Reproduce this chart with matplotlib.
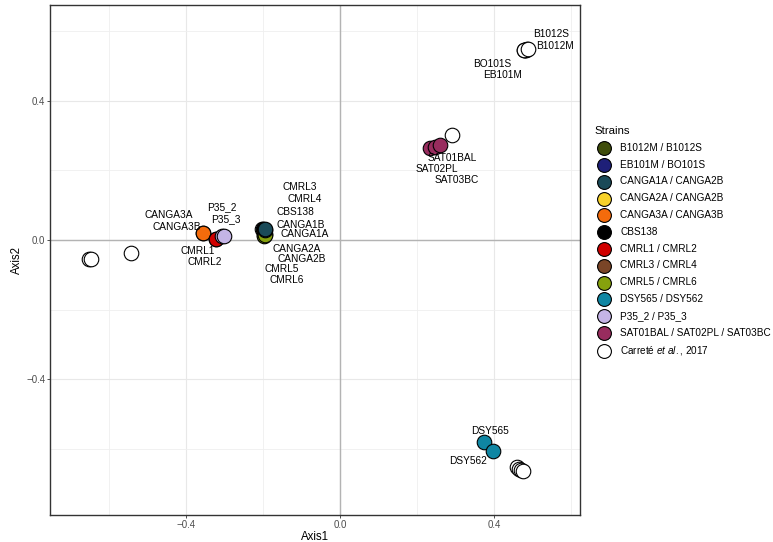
import matplotlib.pyplot as plt

plt.rcParams['font.family'] = ['Liberation Sans', 'DejaVu Sans']
plt.rcParams['mathtext.fontset'] = 'custom'
plt.rcParams['mathtext.it'] = 'Liberation Sans:italic'
plt.rcParams['mathtext.rm'] = 'Liberation Sans'

# strain groups (legend order)
strains = ['B1012M / B1012S', 'EB101M / BO101S', 'CANGA1A / CANGA2B',
           'CANGA2A / CANGA2B', 'CANGA3A / CANGA3B', 'CBS138',
           'CMRL1 / CMRL2', 'CMRL3 / CMRL4', 'CMRL5 / CMRL6',
           'DSY565 / DSY562', 'P35_2 / P35_3', 'SAT01BAL / SAT02PL / SAT03BC']
colors = ['#3f4d0b', '#1e1f78', '#1a4a58', '#f7d22a', '#f46b0c', '#000000',
          '#d00000', '#7a4527', '#86a10d', '#0f86a3', '#c4b4e6', '#982c5e']

axis1 = [[0.480, 0.485], [0.478, 0.482], [-0.195, -0.194],
         [-0.197, -0.196], [-0.356, -0.356], [-0.200],
         [-0.322, -0.321], [-0.198, -0.197], [-0.197, -0.196],
         [0.374, 0.397], [-0.307, -0.302], [0.234, 0.247, 0.260]]
axis2 = [[0.545, 0.548], [0.545, 0.546], [0.029, 0.030],
         [0.015, 0.016], [0.020, 0.020], [0.030],
         [0.003, 0.004], [0.025, 0.026], [0.012, 0.013],
         [-0.579, -0.605], [0.010, 0.012], [0.264, 0.267, 0.272]]

# Carreté et al., 2017 reference strains
ref_axis1 = [-0.651, -0.646, -0.543, -0.203, 0.478, 0.487, 0.291,
             0.460, 0.465, 0.470, 0.474]
ref_axis2 = [-0.055, -0.056, -0.037, 0.031, 0.544, 0.548, 0.300,
             -0.652, -0.656, -0.660, -0.663]

# point labels
label_text = ['B1012S', 'B1012M', 'BO101S', 'EB101M', 'SAT01BAL', 'SAT02PL',
              'SAT03BC', 'CMRL3', 'CMRL4', 'CBS138', 'CANGA1B', 'CANGA1A',
              'CANGA2A', 'CANGA2B', 'CMRL5', 'CMRL6', 'P35_2', 'P35_3',
              'CANGA3A', 'CANGA3B', 'CMRL1', 'CMRL2', 'DSY565', 'DSY562']
label_x = [0.548, 0.558, 0.395, 0.423, 0.291, 0.252, 0.304, -0.104, -0.091,
           -0.117, -0.101, -0.091, -0.112, -0.099, -0.151, -0.138, -0.306,
           -0.296, -0.444, -0.423, -0.369, -0.351, 0.390, 0.332]
label_y = [0.591, 0.556, 0.505, 0.473, 0.235, 0.204, 0.172, 0.152, 0.118,
           0.080, 0.043, 0.017, -0.026, -0.054, -0.083, -0.115, 0.095, 0.060,
           0.072, 0.037, -0.032, -0.063, -0.548, -0.634]

# drawing order inside overlapping clusters
layer = [2, 2, 9, 5, 5, 4, 5, 5, 6, 5, 5, 5]

fig = plt.figure(figsize=(7.73, 5.42), dpi=100)
ax = fig.add_axes([0.0647, 0.0498, 0.6856, 0.941])

ax.axhline(0, color='#b3b3b3', lw=1.0, zorder=1)
ax.axvline(0, color='#b3b3b3', lw=1.0, zorder=1)

for name, c, xs, ys, z in zip(strains, colors, axis1, axis2, layer):
    ax.scatter(xs, ys, s=110, c=c, edgecolors='black', linewidths=0.8,
               label=name, zorder=z)
ax.scatter(ref_axis1, ref_axis2, s=110, c='white', edgecolors='black',
           linewidths=0.8, label=r'Carreté $\it{et\ al.}$, 2017', zorder=3)

for t, x, y in zip(label_text, label_x, label_y):
    ax.text(x, y, t, fontsize=7.3, ha='center', va='center', zorder=10)

ax.set_xlim(-0.753, 0.623)
ax.set_ylim(-0.789, 0.674)
ax.set_xticks([-0.4, 0.0, 0.4])
ax.set_yticks([-0.4, 0.0, 0.4])
ax.set_xticks([-0.6, -0.2, 0.2, 0.6], minor=True)
ax.set_yticks([-0.6, -0.2, 0.2, 0.6], minor=True)
ax.set_xticklabels(['\u22120.4', '0.0', '0.4'])
ax.set_yticklabels(['\u22120.4', '0.0', '0.4'])
ax.grid(which='major', color='#e8e8e8', lw=0.8, zorder=0)
ax.grid(which='minor', color='#efefef', lw=0.6, zorder=0)
ax.set_axisbelow(True)
ax.tick_params(which='major', labelsize=7, labelcolor='#4d4d4d',
               color='#333333', length=2.5, width=0.6, pad=1)
ax.tick_params(which='minor', length=0)
for sp in ax.spines.values():
    sp.set_color('#333333')
    sp.set_linewidth(1.0)
ax.set_xlabel('Axis1', fontsize=8.3, labelpad=1)
ax.set_ylabel('Axis2', fontsize=8.3, labelpad=2)

leg = fig.legend(loc='upper left', bbox_to_anchor=(0.7636, 0.775),
                 frameon=False, fontsize=7.2, title='Strains',
                 title_fontsize=8.2, labelspacing=0.68, handletextpad=0.6,
                 borderaxespad=0, markerscale=0.95)
leg._legend_box.align = 'left'

fig.savefig('out.png', dpi=100)
